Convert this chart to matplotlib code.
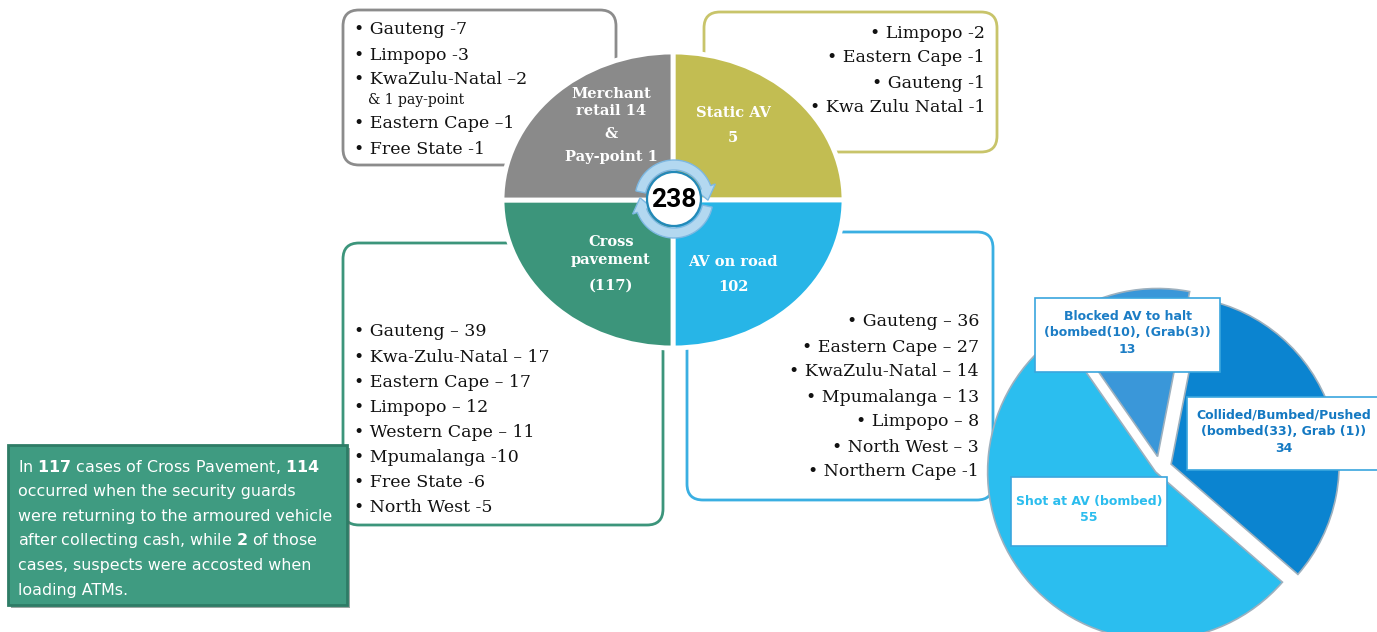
import matplotlib
matplotlib.use('Agg')
import matplotlib.pyplot as plt
from matplotlib.patches import FancyBboxPatch, Rectangle, Circle, Polygon
import numpy as np

W, H = 1377, 632

# ---------------- data ----------------
segments = ["Static AV", "AV on road", "Cross pavement", "Merchant retail"]
segment_counts = [5, 102, 117, 15]
quadrant_share = [1, 1, 1, 1]          # SmartArt: four equal quadrants
total_label = "238"

merchant_lines = ["Gauteng -7", "Limpopo -3", "KwaZulu-Natal \u20132",
                  "Eastern Cape \u20131", "Free State -1"]
merchant_note = "& 1 pay-point"
static_lines = ["Limpopo -2", "Eastern Cape -1", "Gauteng -1", "Kwa Zulu Natal -1"]
cross_lines = ["Gauteng \u2013 39", "Kwa-Zulu-Natal \u2013 17", "Eastern Cape \u2013 17",
               "Limpopo \u2013 12", "Western Cape \u2013 11", "Mpumalanga -10",
               "Free State -6", "North West -5"]
road_lines = ["Gauteng \u2013 36", "Eastern Cape \u2013 27", "KwaZulu-Natal \u2013 14",
              "Mpumalanga \u2013 13", "Limpopo \u2013 8", "North West \u2013 3",
              "Northern Cape -1"]

road_types = ["Collided/Bumbed/Pushed\n(bombed(33), Grab (1))",
              "Blocked AV to halt\n(bombed(10), (Grab(3))",
              "Shot at AV (bombed)"]
road_type_counts = [34, 13, 55]

note_lines = ["In $\\mathbf{117}$ cases of Cross Pavement, $\\mathbf{114}$",
              "occurred when the security guards",
              "were returning to the armoured vehicle",
              "after collecting cash, while $\\mathbf{2}$ of those",
              "cases, suspects were accosted when",
              "loading ATMs."]

# ---------------- styling ----------------
C_GRAY, C_OLIVE, C_GREEN, C_BLUE = "#8A8A8A", "#C2BD52", "#3C957B", "#27B5E7"
SERIF = "DejaVu Serif"
fig = plt.figure(figsize=(W / 100, H / 100), dpi=100)
fig.patch.set_facecolor("white")


def px_axes(x0, y0, x1, y1):
    return fig.add_axes([x0 / W, 1 - y1 / H, (x1 - x0) / W, (y1 - y0) / H])


bg = px_axes(0, 0, W, H)
bg.set_xlim(0, W); bg.set_ylim(H, 0); bg.axis("off")


def rbox(ax, x0, y0, x1, y1, ec, fc="white", r=16, lw=2.0):
    ax.add_patch(FancyBboxPatch((x0, y0), x1 - x0, y1 - y0,
                                boxstyle=f"round,pad=0,rounding_size={r}",
                                ec=ec, fc=fc, lw=lw, clip_on=False))


# rounded info boxes (behind the main pie)
rbox(bg, 343, 10, 616, 165, "#8C8C8C")
rbox(bg, 704, 12, 997, 152, "#C8C46A")
rbox(bg, 343, 243, 663, 525, C_GREEN)
rbox(bg, 687, 232, 993, 500, "#3AAFE2")

FS = 12.5
for i, s in enumerate(merchant_lines):
    y = [30, 55, 80, 124, 149][i]
    bg.text(354, y, "\u2022 " + s, family=SERIF, fontsize=FS, va="center", ha="left", color="#111")
bg.text(368, 100, merchant_note, family=SERIF, fontsize=10, va="center", ha="left", color="#111")
for i, s in enumerate(static_lines):
    bg.text(985, 33 + 25 * i, "\u2022 " + s, family=SERIF, fontsize=FS, va="center", ha="right", color="#111")
for i, s in enumerate(cross_lines):
    bg.text(354, 332 + 25.1 * i, "\u2022 " + s, family=SERIF, fontsize=FS, va="center", ha="left", color="#111")
for i, s in enumerate(road_lines):
    bg.text(979, 322 + 25 * i, "\u2022 " + s, family=SERIF, fontsize=FS, va="center", ha="right", color="#111")

# green note box
bg.add_patch(Rectangle((11, 448), 339, 160, fc="#5a6f66", ec="none", alpha=0.6))
bg.add_patch(Rectangle((8, 445), 339, 160, fc="#3F9B81", ec="#2E7C66", lw=2))
for i, s in enumerate(note_lines):
    bg.text(18, 467 + 24.6 * i, s, family="DejaVu Sans", fontsize=11.4, color="white",
            va="center", ha="left")

# ---------------- main quadrant pie (ellipse) ----------------
cx, cy, rx, ry = 673, 200, 171, 148
L = 1.03
pa = px_axes(cx - rx * L, cy - ry * L, cx + rx * L, cy + ry * L)
pa.pie(quadrant_share, colors=[C_OLIVE, C_BLUE, C_GREEN, C_GRAY], startangle=90,
       counterclock=False, radius=1, wedgeprops=dict(edgecolor="white", linewidth=3.5))
pa.set_aspect("auto"); pa.set_xlim(-L, L); pa.set_ylim(-L, L); pa.axis("off")

# ---------------- right pie (AV on road breakdown) ----------------
pcx, pcy, R = 1160, 468, 168
half = 200
ra = px_axes(pcx - half, pcy - half, pcx + half, pcy + half)
ra.pie(road_type_counts, colors=["#0B84D0", "#3A97D9", "#2BBEEF"], startangle=-41,
       explode=[0.07, 0.07, 0.035], radius=1,
       wedgeprops=dict(edgecolor="#9DB0BE", linewidth=1.2))
ra.set_xlim(-half / R, half / R); ra.set_ylim(-half / R, half / R)
ra.set_aspect("equal"); ra.axis("off")

# ---------------- overlay ----------------
ov = px_axes(0, 0, W, H)
ov.set_xlim(0, W); ov.set_ylim(H, 0); ov.axis("off"); ov.patch.set_alpha(0)

qlab = dict(family=SERIF, fontweight="bold", color="white", fontsize=10.5,
            ha="center", va="center")
for txt, x, y in [("Merchant", 611, 94), ("retail 14", 611, 111), ("&", 611, 134),
                  ("Pay-point 1", 611, 157), ("Static AV", 733, 113), ("5", 733, 138),
                  ("Cross", 611, 242), ("pavement", 611, 260), ("(117)", 611, 286),
                  ("AV on road", 733, 262), ("102", 733, 287)]:
    ov.text(x, y, txt, **qlab)


def arc_arrow(ax, cx, cy, r_in, r_out, a0, a1, head_deg=22, extra=5, **kw):
    sgn = -1 if a1 < a0 else 1
    body_end = a1 - sgn * head_deg
    t = np.radians(np.linspace(a0, body_end, 40))
    outer = [(cx + r_out * np.cos(a), cy - r_out * np.sin(a)) for a in t]
    inner = [(cx + r_in * np.cos(a), cy - r_in * np.sin(a)) for a in t[::-1]]
    be = np.radians(body_end); te = np.radians(a1)
    rm = (r_in + r_out) / 2
    head = [(cx + (r_out + extra) * np.cos(be), cy - (r_out + extra) * np.sin(be)),
            (cx + rm * np.cos(te), cy - rm * np.sin(te)),
            (cx + (r_in - extra) * np.cos(be), cy - (r_in - extra) * np.sin(be))]
    ax.add_patch(Polygon(outer + head + inner, closed=True, **kw))


akw = dict(fc="#B3D8F0", ec="#7DB8E2", lw=1.0)
arc_arrow(ov, 674, 199, 29, 39, 168, -2, **akw)
arc_arrow(ov, 674, 199, 29, 39, -12, -182, **akw)
ov.add_patch(Circle((674, 199), 27, fc="white", ec="#2389B8", lw=1.6))
ov.text(674, 200, total_label, family="Roboto", fontweight="bold", fontsize=19,
        ha="center", va="center", color="black")


# labels for right pie
def label_box(x0, y0, x1, y1, lines_txt, color, fs=9):
    ov.add_patch(Rectangle((x0, y0), x1 - x0, y1 - y0, fc="white", ec="#3AA6DE", lw=1.2,
                           clip_on=False))
    ov.text((x0 + x1) / 2, (y0 + y1) / 2 - 2, lines_txt, family="DejaVu Sans",
            fontweight="bold", fontsize=fs, color=color, ha="center", va="center",
            linespacing=1.35)


label_box(1035, 298, 1220, 372, road_types[1] + "\n" + str(road_type_counts[1]), "#1C7DC5")
label_box(1187, 397, 1380, 470, road_types[0] + "\n" + str(road_type_counts[0]), "#1479C2")
label_box(1011, 477, 1167, 546, road_types[2] + "\n" + str(road_type_counts[2]), "#2BBDEE")

fig.savefig("out.png", dpi=100)
